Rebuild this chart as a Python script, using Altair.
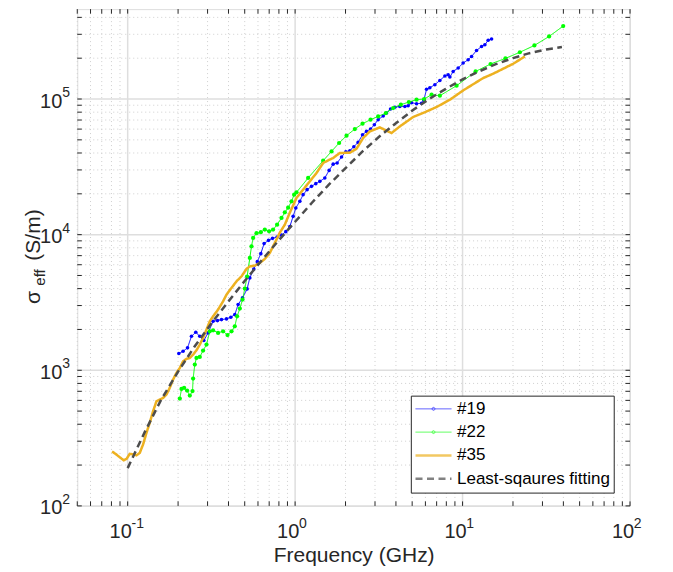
import altair as alt
import pandas as pd

# ---------------- data ----------------
f19 = [0.2020, 0.2142, 0.2277, 0.2405, 0.2551, 0.2696, 0.2849, 0.3021, 0.3237, 0.3439,
       0.3634, 0.3892, 0.4130, 0.4363, 0.4566, 0.4851, 0.5167, 0.5363, 0.5665, 0.5945,
       0.6239, 0.6528, 0.6935, 0.7328, 0.7805, 0.8293, 0.8799, 0.9297, 0.9729, 1.0097,
       1.067, 1.116, 1.179, 1.253, 1.329, 1.405, 1.504, 1.596, 1.687, 1.782,
       1.893, 2.008, 2.122, 2.242, 2.378, 2.527, 2.670, 2.821, 2.972, 3.132,
       3.356, 3.516, 3.715, 3.940, 4.221, 4.522, 4.732, 4.959, 5.311, 5.690,
       5.872, 6.094, 6.377, 6.831, 7.318, 7.841, 8.204, 8.399, 8.787, 9.413,
       10.08, 10.80, 11.32, 12.12, 12.99, 13.59, 14.22, 14.90]
s19 = [1328, 1380, 1463, 1781, 1905, 1781, 1656, 1886, 2297, 2324,
       2364, 2392, 2458, 2574, 3050, 3416, 3981, 4797, 5587, 6324,
       7244, 8586, 9078, 9392, 9618, 9916, 10522, 11455, 13641, 15730,
       17600, 19710, 21460, 22700, 23760, 24710, 26170, 29770, 33080, 33770,
       37380, 40890, 41590, 44510, 47880, 54560, 57700, 60100, 64660, 70390,
       74930, 78840, 84400, 87020, 88200, 88020, 89240, 93900, 92340, 93120,
       98000, 118100, 121100, 127500, 137100, 147800, 151100, 145300, 159700, 169200,
       184200, 194900, 206000, 228100, 244100, 251200, 271200, 276800]

f22 = [0.2048, 0.2096, 0.2173, 0.2264, 0.2350, 0.2439, 0.2459, 0.2517, 0.2576, 0.2696,
       0.2821, 0.2956, 0.3093, 0.3237, 0.3467, 0.3714, 0.3946, 0.4170, 0.4363, 0.4504,
       0.4675, 0.4851, 0.5006, 0.5167, 0.5363, 0.5489, 0.5612, 0.5881, 0.6239, 0.6592,
       0.6993, 0.7387, 0.7805, 0.8293, 0.8680, 0.9082, 0.9517, 0.9863, 1.019, 1.196,
       1.470, 1.650, 1.831, 2.028, 2.273, 2.527, 2.821, 3.132, 3.482, 3.850,
       4.280, 4.777, 5.311, 5.896, 6.528, 7.318, 9.209, 11.96, 14.70, 18.02,
       21.99, 26.85, 32.87, 39.90]
s22 = [619, 729, 742, 709, 651, 703, 869, 1102, 1234, 1255,
       1397, 1547, 1938, 1971, 1886, 1938, 1817, 1938, 2110, 2500,
       2849, 3319, 4001, 4904, 6735, 8200, 9455, 10260, 10430, 10890,
       10580, 10890, 11851, 13280, 14600, 15810, 17600, 19710, 20500, 26170,
       35100, 41100, 47390, 53640, 60100, 65770, 70390, 74430, 78840, 85830,
       90780, 95040, 98800, 100000, 107600, 105800, 125300, 159700, 181100, 199200,
       221200, 248300, 289300, 345100]

f35 = [0.0807, 0.0857, 0.0906, 0.0948, 0.0984, 0.1029, 0.1077, 0.1129, 0.1181, 0.1236,
       0.1295, 0.1355, 0.1418, 0.1486, 0.1555, 0.1627, 0.1705, 0.1784, 0.1867, 0.1956,
       0.2048, 0.2142, 0.2245, 0.2350, 0.2459, 0.2576, 0.2696, 0.2821, 0.2956, 0.3093,
       0.3237, 0.3467, 0.3714, 0.3892, 0.4170, 0.4467, 0.4784, 0.5125, 0.5363, 0.5744,
       0.6153, 0.6592, 0.7060, 0.7561, 0.8103, 0.8680, 0.9297, 1.019, 1.116, 1.224,
       1.342, 1.470, 1.575, 1.687, 1.849, 2.122, 2.327, 2.548, 2.794, 3.206,
       3.516, 3.766, 4.221, 5.069, 5.955, 6.994, 8.399, 10.08, 13.28, 15.23,
       20.06, 23.56]
s35 = [252, 239, 226, 217, 222, 242, 240, 236, 246, 284,
       346, 410, 499, 591, 608, 626, 662, 742, 854, 957,
       1041, 1165, 1213, 1234, 1305, 1404, 1547, 1733, 1994, 2297,
       2500, 2801, 3225, 3613, 4048, 4529, 4929, 5587, 5840, 5910,
       6186, 6621, 7331, 8686, 10345, 11851, 14527, 18640, 21460, 24710,
       28490, 33770, 35280, 36750, 40000, 40200, 43020, 51600, 57700, 61760,
       58400, 56150, 62820, 73680, 79940, 87300, 98800, 115700, 142800, 153600,
       182000, 206000]

f_fit = [0.1, 0.126, 0.158, 0.2, 0.251, 0.316, 0.398, 0.501, 0.631, 0.794,
         1.0, 1.26, 1.58, 2.0, 2.51, 3.16, 3.98, 5.01, 6.31, 7.94,
         10.0, 12.6, 15.8, 20.0, 25.1, 31.6, 39.2]
s_fit = [190, 347, 603, 977, 1496, 2213, 3199, 4571, 6457, 9016,
         12450, 17180, 23170, 30900, 40740, 52480, 66070, 82220, 100000, 118900,
         139600, 160300, 180700, 200400, 217800, 231700, 241500]

series_names = ["#19", "#22", "#35", "Least-sqaures fitting"]
series_colors = ["#0000ff", "#00ff00", "#edb120", "#4d4d4d"]
series_widths = [1, 1, 2.5, 2.5]
series_dashes = [[1, 0], [1, 0], [1, 0], [7, 4.5]]

x_major = [0.1, 1, 10, 100]
x_exponents = ["-1", "0", "1", "2"]
x_minor = [0.05, 0.06, 0.07, 0.08, 0.09, 0.2, 0.3, 0.4, 0.5, 0.6, 0.7, 0.8, 0.9,
           2, 3, 4, 5, 6, 7, 8, 9, 20, 30, 40, 50, 60, 70, 80, 90]
y_major = [100, 1000, 10000, 100000]
y_exponents = ["2", "3", "4", "5"]
y_minor = [200, 300, 400, 500, 600, 700, 800, 900,
           2000, 3000, 4000, 5000, 6000, 7000, 8000, 9000,
           20000, 30000, 40000, 50000, 60000, 70000, 80000, 90000,
           200000, 300000, 400000]

x_domain = [0.05, 100]
y_domain = [100, 460000]
x_title = "Frequency (GHz)"
y_title_parts = ["σ", "eff", "(S/m)"]

# ---------------- styling ----------------
W, H = 553, 497
FONT = "Liberation Sans"
AX = "#262626"
TICK = 4.5

xs = alt.Scale(type="log", domain=x_domain, nice=False)
ys = alt.Scale(type="log", domain=y_domain, nice=False)

xaxis = alt.Axis(values=x_major, labelExpr="'10'", title=x_title, grid=False, ticks=False,
                 tickSize=0, domain=False, labelFont=FONT, labelFontSize=20, labelColor=AX,
                 labelBaseline="alphabetic", labelPadding=32, labelOffset=-7.5,
                 labelFlush=False, labelOverlap=False, titleFont=FONT, titleFontSize=21,
                 titleFontWeight="normal", titleColor=AX, titleBaseline="alphabetic",
                 titleY=55.7)
yaxis = alt.Axis(values=y_major, labelExpr="'10'", title=None, grid=False, ticks=False,
                 tickSize=0, domain=False, labelFont=FONT, labelFontSize=20, labelColor=AX,
                 labelAlign="right", labelBaseline="middle", labelPadding=15.5,
                 labelOffset=2, labelFlush=False, labelOverlap=False)


def X(field):
    return alt.X(field, type="quantitative", scale=xs, axis=xaxis)


def Y(field):
    return alt.Y(field, type="quantitative", scale=ys, axis=yaxis)


xt_major = pd.DataFrame({"v": x_major})
xt_minor = pd.DataFrame({"v": x_minor})
yt_major = pd.DataFrame({"v": y_major})
yt_minor = pd.DataFrame({"v": y_minor})
xt_all = pd.DataFrame({"v": x_major + x_minor})
yt_all = pd.DataFrame({"v": y_major + y_minor})

layers = []
# grid
layers.append(alt.Chart(xt_minor).mark_rule(stroke="#cfcfcf", strokeWidth=1, strokeDash=[1, 3])
              .encode(x=X("v"), y=alt.value(0), y2=alt.value(H)))
layers.append(alt.Chart(yt_minor).mark_rule(stroke="#cfcfcf", strokeWidth=1, strokeDash=[1, 3])
              .encode(y=Y("v"), x=alt.value(0), x2=alt.value(W)))
layers.append(alt.Chart(xt_major).mark_rule(stroke="#dedede", strokeWidth=1.5)
              .encode(x=X("v"), y=alt.value(0), y2=alt.value(H)))
layers.append(alt.Chart(yt_major).mark_rule(stroke="#dedede", strokeWidth=1.5)
              .encode(y=Y("v"), x=alt.value(0), x2=alt.value(W)))

# legend and scales shared by the series
leg = alt.Legend(title=None, orient="none", legendX=333.7, legendY=386.7,
                 symbolType="stroke", symbolSize=1296, clipHeight=20, rowPadding=3.3,
                 labelOffset=4, labelFont=FONT, labelFontSize=17, labelColor="#000000",
                 labelLimit=400, padding=3.2, strokeColor=AX, fillColor="white")
col_scale = alt.Scale(domain=series_names, range=series_colors)
dash_scale = alt.Scale(domain=series_names, range=series_dashes)
w_scale = alt.Scale(type="ordinal", domain=series_names, range=series_widths)
DOT_LINE = "M-1,0H1M0.08,0A0.08,0.08,0,1,1,-0.08,0A0.08,0.08,0,1,1,0.08,0"
shape_scale = alt.Scale(domain=series_names, range=[DOT_LINE, DOT_LINE, "stroke", "stroke"])

series_enc = dict(
    color=alt.Color("series:N", scale=col_scale, legend=leg),
    strokeDash=alt.StrokeDash("series:N", scale=dash_scale, legend=leg),
    strokeWidth=alt.StrokeWidth("series:N", scale=w_scale, legend=leg),
)


def line_layer(f, s, name):
    df = pd.DataFrame({"f": f, "s": s, "series": name})
    return alt.Chart(df).mark_line().encode(x=X("f"), y=Y("s"), **series_enc)


def point_layer(f, s, color, size):
    df = pd.DataFrame({"f": f, "s": s})
    return alt.Chart(df).mark_circle(color=color, size=size, opacity=1).encode(
        x=X("f"), y=Y("s"))


layers.append(line_layer(f19, s19, series_names[0]))
layers.append(point_layer(f19, s19, series_colors[0], 13))
layers.append(line_layer(f22, s22, series_names[1]))
layers.append(point_layer(f22, s22, series_colors[1], 18))
layers.append(line_layer(f35, s35, series_names[2]))
layers.append(line_layer(f_fit, s_fit, series_names[3]))

# legend-only layer (draws nothing): gives #19 / #22 a marker dot in the legend
legend_df = pd.DataFrame({"series": series_names, "f": [1, 1, 1, 1], "s": [1000, 1000, 1000, 1000]})
layers.append(alt.Chart(legend_df).transform_filter("false").mark_point().encode(
    x=X("f"), y=Y("s"), shape=alt.Shape("series:N", scale=shape_scale, legend=leg), **series_enc))

# inward ticks on all four sides
layers.append(alt.Chart(xt_all).mark_rule(stroke=AX, strokeWidth=1)
              .encode(x=X("v"), y=alt.value(H), y2=alt.value(H - TICK)))
layers.append(alt.Chart(xt_all).mark_rule(stroke=AX, strokeWidth=1)
              .encode(x=X("v"), y=alt.value(0), y2=alt.value(TICK)))
layers.append(alt.Chart(yt_all).mark_rule(stroke=AX, strokeWidth=1)
              .encode(y=Y("v"), x=alt.value(0), x2=alt.value(TICK)))
layers.append(alt.Chart(yt_all).mark_rule(stroke=AX, strokeWidth=1)
              .encode(y=Y("v"), x=alt.value(W), x2=alt.value(W - TICK)))

# exponents of the tick labels
xe = pd.DataFrame({"v": x_major, "e": x_exponents})
ye = pd.DataFrame({"v": y_major, "e": y_exponents})
layers.append(alt.Chart(xe).mark_text(align="left", baseline="alphabetic", dx=3.8, font=FONT,
                                      fontSize=14, color=AX)
              .encode(x=X("v"), y=alt.value(H + 22), text="e:N"))
layers.append(alt.Chart(ye).mark_text(align="left", baseline="alphabetic", dy=-2, font=FONT,
                                      fontSize=14, color=AX)
              .encode(y=Y("v"), x=alt.value(-15), text="e:N"))

# y-axis title: sigma with subscript "eff", then (S/m)
yt_pos = [(y_title_parts[0], -37.3, 288.5, 21), (y_title_parts[1], -32.5, 268.5, 15),
          (y_title_parts[2], -37.3, 226, 21)]
for txt, px, py, fs in yt_pos:
    layers.append(alt.Chart(pd.DataFrame({"t": [txt]})).mark_text(
        angle=270, align="center", baseline="alphabetic", font=FONT, fontSize=fs, color=AX)
        .encode(text="t:N", x=alt.value(px), y=alt.value(py)))

chart = alt.layer(*layers).properties(
    width=W, height=H,
    autosize=alt.AutoSizeParams(type="none"),
    padding={"left": 69.3, "top": 1, "right": 35, "bottom": 62},
).configure_view(stroke=AX, strokeWidth=1).configure(font=FONT)

chart.save("out.html", embed_options={"renderer": "svg", "actions": False})
